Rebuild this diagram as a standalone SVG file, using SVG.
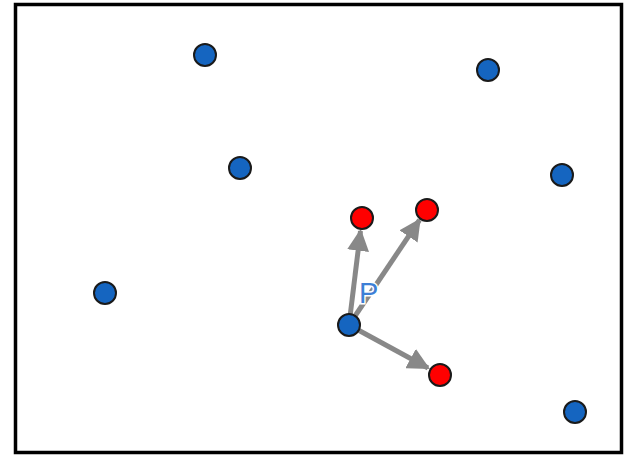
<svg xmlns="http://www.w3.org/2000/svg" width="625" height="456" viewBox="0 0 625 456">
  <style>
    .pt { stroke: #1a1a1a; stroke-width: 2; }
    .blue { fill: #1565c0; }
    .red { fill: #ff0000; }
    .vec { stroke: #888888; stroke-width: 5; fill: none; marker-end: url(#head); }
    .lbl { font-family: "Liberation Sans", Arial, sans-serif; font-size: 29px; fill: #3d7fd6; stroke: #ffffff; stroke-width: 3; paint-order: stroke; }
  </style>
  <defs>
    <marker id="head" viewBox="0 0 10 10" refX="9" refY="5" markerWidth="4.4" markerHeight="4.4" orient="auto" markerUnits="strokeWidth">
      <path d="M0,0 L10,5 L0,10 z" fill="#888888"/>
    </marker>
  </defs>
  <rect x="0" y="0" width="625" height="456" fill="#ffffff"/>
  <rect x="15.5" y="4.5" width="606" height="448" fill="#ffffff" stroke="#000000" stroke-width="3.5"/>

  <g id="connectors">
    <line class="vec" x1="349" y1="325" x2="360.5" y2="231"/>
    <line class="vec" x1="349" y1="325" x2="419.5" y2="220"/>
    <line class="vec" x1="349" y1="325" x2="428" y2="368"/>
  </g>

  <text id="label-p" class="lbl" x="359" y="303">P</text>

  <g id="n1"><circle class="pt blue" cx="205" cy="55" r="11"/></g>
  <g id="n2"><circle class="pt blue" cx="488" cy="70" r="11"/></g>
  <g id="n3"><circle class="pt blue" cx="240" cy="168" r="11"/></g>
  <g id="n4"><circle class="pt blue" cx="562" cy="175" r="11"/></g>
  <g id="n5"><circle class="pt blue" cx="105" cy="293" r="11"/></g>
  <g id="n6"><circle class="pt blue" cx="575" cy="412" r="11"/></g>
  <g id="p"><circle class="pt blue" cx="349" cy="325" r="11"/></g>
  <g id="r1"><circle class="pt red" cx="362" cy="218" r="11"/></g>
  <g id="r2"><circle class="pt red" cx="427" cy="210" r="11"/></g>
  <g id="r3"><circle class="pt red" cx="440" cy="375" r="11"/></g>
</svg>
